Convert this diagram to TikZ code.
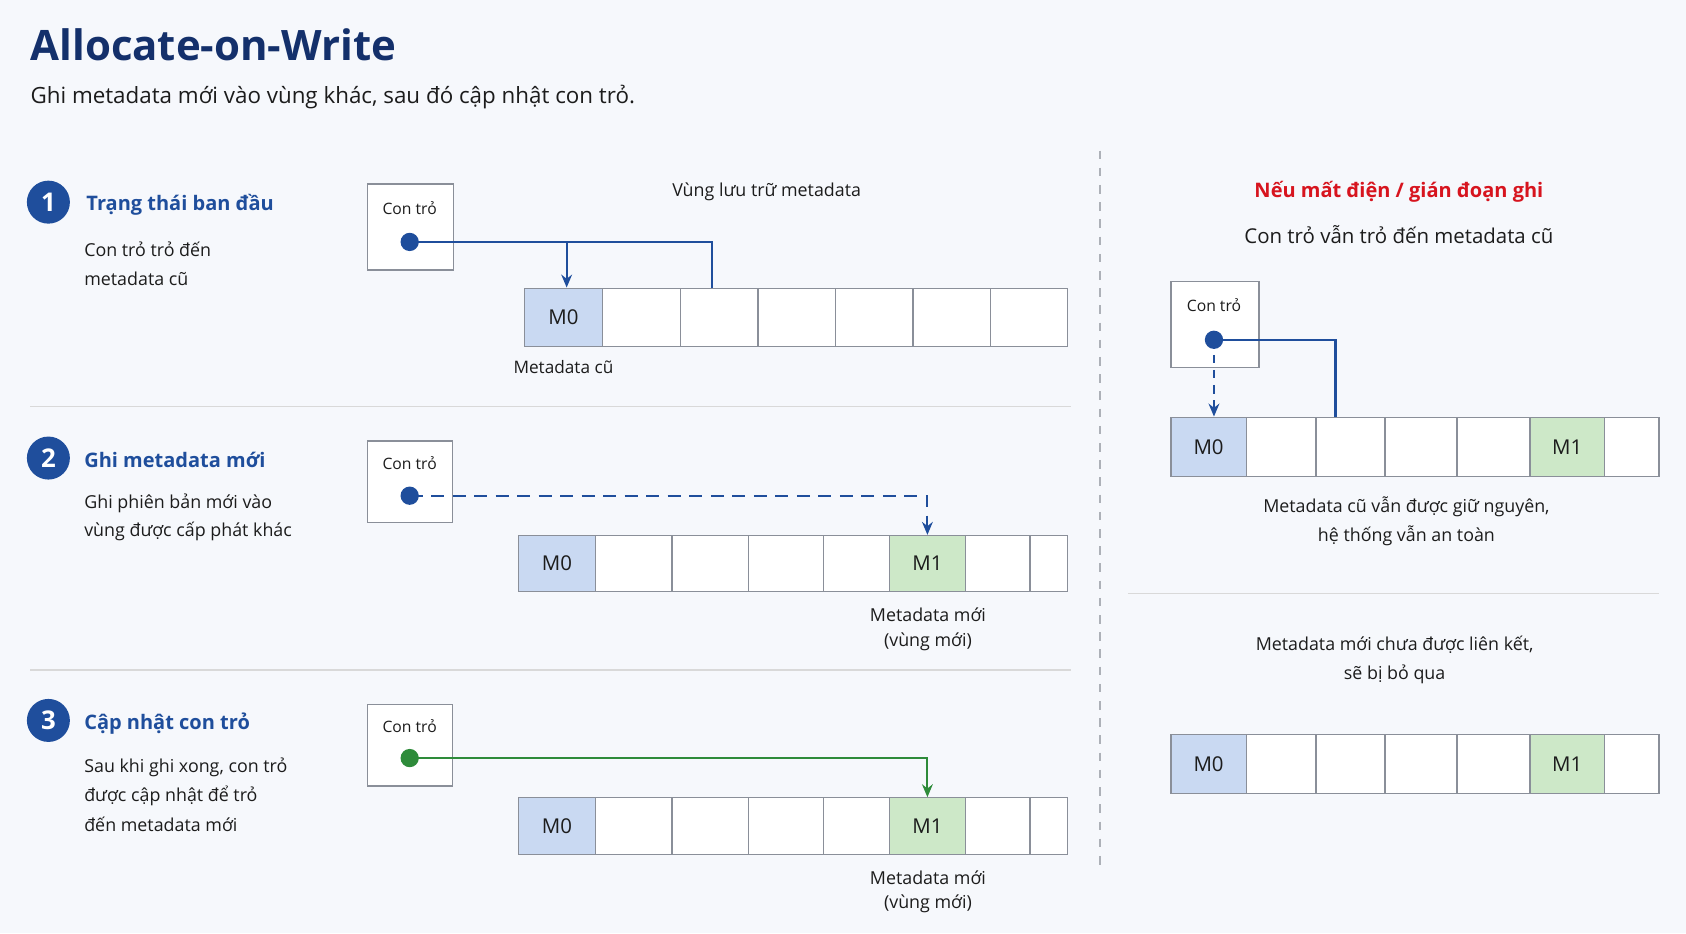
\documentclass[tikz,border=0pt]{standalone}
\usepackage{fontspec}
\setmainfont{Open Sans}
\usetikzlibrary{arrows.meta}
\definecolor{navy}{HTML}{14306B}
\definecolor{bl}{HTML}{1F4E9C}
\definecolor{blfill}{HTML}{C9D9F2}
\definecolor{grfill}{HTML}{CDE8C8}
\definecolor{gr}{HTML}{2E8B3A}
\definecolor{bg}{HTML}{F6F8FC}
\definecolor{gline}{HTML}{8A8F99}
\definecolor{txt}{HTML}{1C1C1C}
\definecolor{rd}{HTML}{D7141E}
\tikzset{
 cellbase/.style={draw=gline,line width=0.6pt,fill=white,inner sep=0pt,font=\fontsize{9.5}{11}\selectfont,text=txt},
 cb/.style={fill=blfill},
 cg/.style={fill=grfill},
 pbox/.style={draw=gline,line width=0.6pt,fill=white,inner sep=0pt,minimum width=40pt,minimum height=40pt},
 dot/.style={circle,fill=bl,inner sep=0pt,minimum size=8.5pt},
 num/.style={circle,fill=bl,text=white,inner sep=0pt,minimum size=20pt,font=\bfseries\fontsize{12}{12}\selectfont},
 stitle/.style={anchor=west,inner sep=0pt,text=bl,font=\bfseries\fontsize{9.3}{11}\selectfont},
 desc/.style={anchor=west,inner sep=0pt,text=txt,font=\fontsize{8.3}{10}\selectfont},
 lbl/.style={text=txt,font=\fontsize{8.3}{10}\selectfont},
 small/.style={text=txt,font=\fontsize{7.3}{9}\selectfont},
 arr/.style={line width=1pt,-{Stealth[length=6pt,width=5pt]}},
 sep/.style={draw=gray!30,line width=0.6pt}
}
\newcommand\mycell[7]{\node[cellbase,#6,minimum width={(#3-#2)*0.5pt},minimum height={(#5-#4)*0.5pt}] (#1) at ({(#2+#3)/2},{(#4+#5)/2}) {#7};}
\begin{document}
\begin{tikzpicture}[x=0.5pt,y=-0.5pt]
\fill[bg] (0,0) rectangle (1568,868);
\useasboundingbox (0,0) rectangle (1568,868);
\node[anchor=west,inner sep=0pt,text=navy,font=\bfseries\fontsize{19.5}{24}\selectfont] (title) at (28,42) {Allocate-on-Write};
\node[anchor=west,inner sep=0pt,text=txt,font=\fontsize{10.4}{12}\selectfont] (sub) at (28,90) {Ghi metadata mới vào vùng khác, sau đó cập nhật con trỏ.};
% section 1
\node[num] (n1) at (45,188) {1};
\node[stitle] (t1) at (80,190) {Trạng thái ban đầu};
\node[desc] (d1a) at (78,232) {Con trỏ trỏ đến};
\node[desc] (d1b) at (78,259) {metadata cũ};
\node[pbox] (b1) at (382,211) {};
\node[small] (b1t) at (381,194) {Con trỏ};
\node[dot] (p1) at (381,225) {};
\node[lbl] (v1) at (713,178) {Vùng lưu trữ metadata};
\mycell{a11}{488}{560}{268}{322}{cb}{M0}
\mycell{a12}{560}{633}{268}{322}{}{}
\mycell{a13}{633}{705}{268}{322}{}{}
\mycell{a14}{705}{777}{268}{322}{}{}
\mycell{a15}{777}{849}{268}{322}{}{}
\mycell{a16}{849}{921}{268}{322}{}{}
\mycell{a17}{921}{993}{268}{322}{}{}
\coordinate (k1) at (662,225);
\draw[bl,line width=1pt] (p1.center) -- (k1) -- (k1 |- a13.north);
\draw[bl,arr] (a11.north |- p1) ++(3,0) -- ([xshift=1.5pt]a11.north);
\node[small,font=\fontsize{8}{10}\selectfont] (m1) at (524,341) {Metadata cũ};
\draw[sep] (28,378) -- (996,378);
% section 2
\node[num] (n2) at (45,426) {2};
\node[stitle] (t2) at (78,428) {Ghi metadata mới};
\node[desc] (d2a) at (78,468) {Ghi phiên bản mới vào};
\node[desc] (d2b) at (78,494) {vùng được cấp phát khác};
\node[pbox,minimum width=39.5pt,minimum height=38pt] (b2) at (381.5,448) {};
\node[small] (b2t) at (381,431) {Con trỏ};
\node[dot] (p2) at (381,461) {};
\mycell{c21}{482}{554}{498}{550}{cb}{M0}
\mycell{c22}{554}{625}{498}{550}{}{}
\mycell{c23}{625}{696}{498}{550}{}{}
\mycell{c24}{696}{766}{498}{550}{}{}
\mycell{c25}{766}{827}{498}{550}{}{}
\mycell{c26}{827}{898}{498}{550}{cg}{M1}
\mycell{c27}{898}{958}{498}{550}{}{}
\mycell{c28}{958}{993}{498}{550}{}{}
\draw[bl,arr,dash pattern=on 6pt off 4pt] (p2.center) -| (c26.north);
\node[lbl] (m2a) at (863,572) {Metadata mới};
\node[lbl] (m2b) at (863,597) {(vùng mới)};
\draw[sep] (28,623) -- (996,623);
% section 3
\node[num] (n3) at (45,670) {3};
\node[stitle] (t3) at (78,673) {Cập nhật con trỏ};
\node[desc] (d3a) at (78,714) {Sau khi ghi xong, con trỏ};
\node[desc] (d3b) at (78,740) {được cập nhật để trỏ};
\node[desc] (d3c) at (78,767) {đến metadata mới};
\node[pbox,minimum width=39.5pt,minimum height=38pt] (b3) at (381.5,693) {};
\node[small] (b3t) at (381,675) {Con trỏ};
\node[dot,fill=gr] (p3) at (381,705) {};
\mycell{c31}{482}{554}{742}{795}{cb}{M0}
\mycell{c32}{554}{625}{742}{795}{}{}
\mycell{c33}{625}{696}{742}{795}{}{}
\mycell{c34}{696}{766}{742}{795}{}{}
\mycell{c35}{766}{827}{742}{795}{}{}
\mycell{c36}{827}{898}{742}{795}{cg}{M1}
\mycell{c37}{898}{958}{742}{795}{}{}
\mycell{c38}{958}{993}{742}{795}{}{}
\draw[gr,arr] (p3.center) -| (c36.north);
\node[lbl] (m3a) at (863,816) {Metadata mới};
\node[lbl] (m3b) at (863,841) {(vùng mới)};
% divider
\draw[gline!70,line width=0.6pt,dash pattern=on 4pt off 4pt] (1023,140) -- (1023,805);
% right
\node[text=rd,font=\bfseries\fontsize{9.3}{11}\selectfont] (rt) at (1301,178) {Nếu mất điện / gián đoạn ghi};
\node[text=txt,font=\fontsize{9.5}{11}\selectfont] (rs) at (1301,218) {Con trỏ vẫn trỏ đến metadata cũ};
\node[pbox,minimum width=41pt,minimum height=40pt] (b4) at (1130,302) {};
\node[small] (b4t) at (1129,284) {Con trỏ};
\node[dot] (p4) at (1129,316) {};
\mycell{r11}{1089}{1159}{388}{443}{cb}{M0}
\mycell{r12}{1159}{1224}{388}{443}{}{}
\mycell{r13}{1224}{1288}{388}{443}{}{}
\mycell{r14}{1288}{1355}{388}{443}{}{}
\mycell{r15}{1355}{1423}{388}{443}{}{}
\mycell{r16}{1423}{1492}{388}{443}{cg}{M1}
\mycell{r17}{1492}{1543}{388}{443}{}{}
\coordinate (k4) at (1242,316);
\draw[bl,line width=1pt] (p4.center) -- (k4) -- (k4 |- r13.north);
\draw[bl,arr,dash pattern=on 4pt off 3pt] (p4.center) -- (p4 |- r11.north);
\node[lbl] (ra) at (1308,471) {Metadata cũ vẫn được giữ nguyên,};
\node[lbl] (rb) at (1308,498) {hệ thống vẫn an toàn};
\draw[sep] (1049,552) -- (1543,552);
\node[lbl] (rc) at (1297,600) {Metadata mới chưa được liên kết,};
\node[lbl] (rd) at (1297,627) {sẽ bị bỏ qua};
\mycell{r21}{1089}{1159}{683}{738}{cb}{M0}
\mycell{r22}{1159}{1224}{683}{738}{}{}
\mycell{r23}{1224}{1288}{683}{738}{}{}
\mycell{r24}{1288}{1355}{683}{738}{}{}
\mycell{r25}{1355}{1423}{683}{738}{}{}
\mycell{r26}{1423}{1492}{683}{738}{cg}{M1}
\mycell{r27}{1492}{1543}{683}{738}{}{}
\end{tikzpicture}
\end{document}
